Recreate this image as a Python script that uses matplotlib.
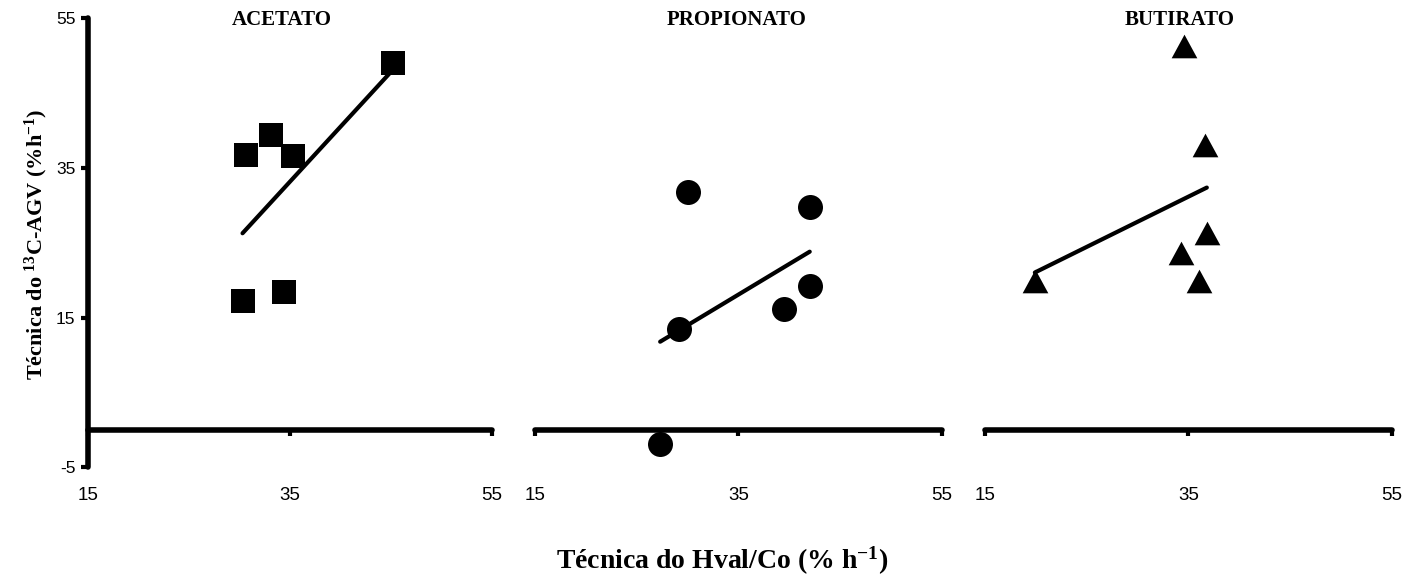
import numpy as np
import matplotlib
matplotlib.use("Agg")
import matplotlib.pyplot as plt
from matplotlib.path import Path

plt.rcParams["font.family"] = ["Liberation Sans", "DejaVu Sans"]
plt.rcParams["axes.unicode_minus"] = False
plt.rcParams["mathtext.fontset"] = "custom"
plt.rcParams["mathtext.rm"] = "Liberation Serif:bold"
plt.rcParams["mathtext.bf"] = "Liberation Serif:bold"
plt.rcParams["mathtext.it"] = "Liberation Serif:bold"

# Passage rates (% h-1): Hval/Co technique (x) vs 13C-AGV technique (y)
panel_titles = ["ACETATO", "PROPIONATO", "BUTIRATO"]

acetato_x = [30.6, 33.1, 35.3, 30.3, 34.4, 45.2]
acetato_y = [36.7, 39.3, 36.6, 17.2, 18.4, 49.0]

propionato_x = [30.0, 42.0, 42.0, 39.5, 29.2, 27.3]
propionato_y = [31.7, 29.7, 19.2, 16.2, 13.5, -1.9]

butirato_x = [34.6, 36.6, 36.8, 34.3, 36.0, 19.9]
butirato_y = [51.2, 38.0, 26.3, 23.6, 19.9, 19.9]

x_ticks = [15, 35, 55]
y_ticks = [-5, 15, 35, 55]

# wide, slightly squat triangle marker
tri = Path([(-1, -0.92), (1, -0.92), (0, 0.92), (-1, -0.92)],
           [Path.MOVETO, Path.LINETO, Path.LINETO, Path.CLOSEPOLY])

series = [
    (acetato_x, acetato_y, "s", 17),
    (propionato_x, propionato_y, "o", 18),
    (butirato_x, butirato_y, tri, 18.5),
]

fig = plt.figure(figsize=(14.07, 5.79), dpi=100)

bottom, height = 0.19275, 0.77651
lefts = [0.06254, 0.38024, 0.70007]
widths = [0.28714, 0.28927, 0.28927]
title_pos = [0.48, 0.496, 0.479]

for i, (xs, ys, mk, ms) in enumerate(series):
    ax = fig.add_axes([lefts[i], bottom, widths[i], height])
    ax.set_xlim(x_ticks[0], x_ticks[-1])
    ax.set_ylim(y_ticks[0], y_ticks[-1])

    # linear trend over the observed range
    slope, intercept = np.polyfit(xs, ys, 1)
    xl = np.array([min(xs), max(xs)])
    ax.plot(xl, slope * xl + intercept, color="black", lw=3,
            solid_capstyle="round", zorder=2, clip_on=False)
    ax.plot(xs, ys, linestyle="none", marker=mk, markersize=ms,
            color="black", markeredgewidth=0, zorder=3, clip_on=False)

    for side in ["top", "right"]:
        ax.spines[side].set_visible(False)
    sp = ax.spines["bottom"]
    sp.set_position(("data", 0))
    sp.set_bounds(x_ticks[0], x_ticks[-1])
    sp.set_linewidth(4)
    sp.set_capstyle("round")

    ax.set_xticks(x_ticks)
    ax.tick_params(axis="x", direction="out", length=4, width=3,
                   pad=37, labelsize=13.5)

    if i == 0:
        sl = ax.spines["left"]
        sl.set_bounds(y_ticks[0], y_ticks[-1])
        sl.set_linewidth(4)
        sl.set_capstyle("round")
        ax.set_yticks(y_ticks)
        ax.tick_params(axis="y", direction="out", length=5, width=3,
                       pad=4, labelsize=12.5)
    else:
        ax.spines["left"].set_visible(False)
        ax.set_yticks([])

    ax.patch.set_visible(False)
    ax.text(title_pos[i], 0.995, panel_titles[i], transform=ax.transAxes,
            ha="center", va="center", fontsize=15, fontweight="bold",
            family="Liberation Serif")

fig.text(0.513, 0.031, r"Técnica do Hval/Co (% h$^{\mathbf{-1}}$)",
         ha="center", va="center", fontsize=20, fontweight="bold",
         family="Liberation Serif")
fig.text(0.0256, 1 - 244 / 579, r"Técnica do $^{\mathbf{13}}$C-AGV (%h$^{\mathbf{-1}}$)",
         ha="center", va="center", rotation=90, fontsize=16,
         fontweight="bold", family="Liberation Serif")

fig.savefig("out.png", dpi=100)
